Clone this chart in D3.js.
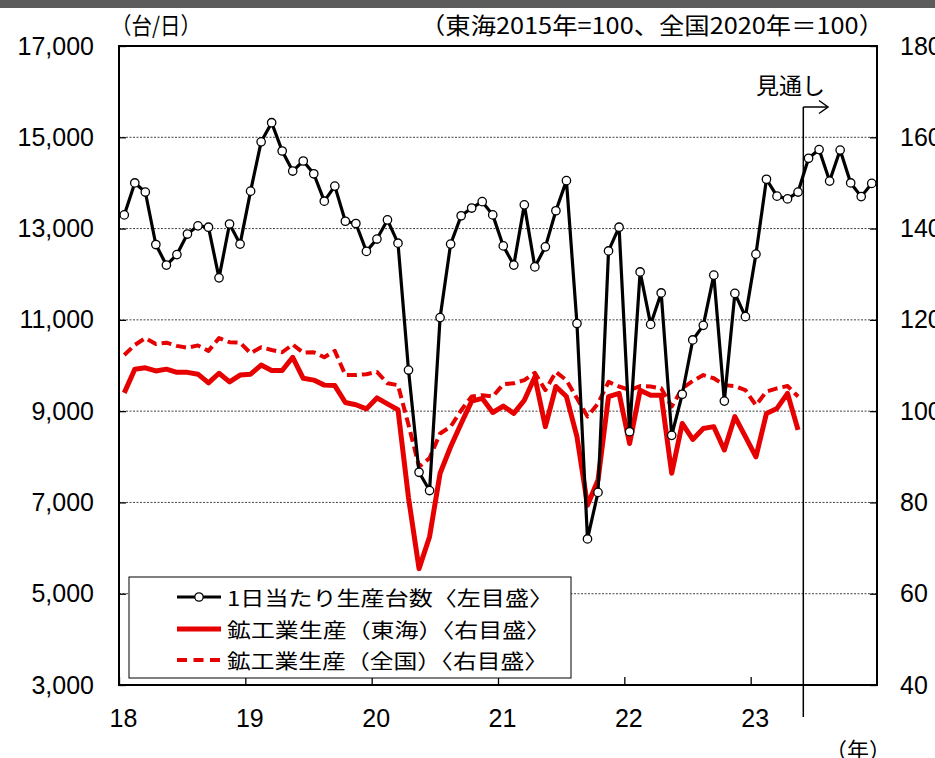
<!DOCTYPE html>
<html>
<head>
<meta charset="utf-8">
<script src="https://cdn.jsdelivr.net/npm/d3@7/dist/d3.min.js"></script>
<style>
  html, body { margin: 0; padding: 0; background: #fff; }
  svg { display: block; }
  .num { font-family: "Liberation Sans", Arial, sans-serif; }
  .jp { font-family: "Noto Sans CJK JP", "Noto Sans", sans-serif; }
</style>
</head>
<body>
<svg id="chart" width="935" height="758"></svg>
<script>
// Monthly series, Jan 2018 onward
const yearLabels = ["18", "19", "20", "21", "22", "23"];

// 1日当たり生産台数 (台/日), Jan 2018 – Dec 2023 (from Jun 2023: outlook)
const unitsPerDay = [
  13300, 14000, 13800, 12650, 12200, 12430, 12880, 13060, 13030, 11920, 13100, 12660,
  13820, 14900, 15320, 14700, 14260, 14480, 14200, 13600, 13930, 13160, 13110, 12500,
  12770, 13190, 12680, 9900, 7660, 7260, 11050, 12660, 13280, 13450, 13590, 13300,
  12620, 12200, 13520, 12160, 12600, 13390, 14050, 10920, 6200, 7220, 12510, 13030,
  8550, 12050, 10900, 11590, 8470, 9370, 10560, 10880, 11980, 9220, 11580, 11070,
  12440, 14080, 13710, 13650, 13800, 14540, 14730, 14040, 14720, 14000, 13700, 13990
];

// 鉱工業生産（東海）, 2015=100, Jan 2018 – May 2023
const tokaiIP = [
  104.0, 109.2, 109.5, 108.8, 109.2, 108.5, 108.5, 108.1, 106.2, 108.3, 106.4, 107.9,
  108.1, 110.1, 108.9, 108.9, 111.8, 107.2, 106.8, 105.7, 105.6, 101.9, 101.4, 100.5,
  102.9, 101.6, 100.3, 81.0, 65.5, 72.5, 86.4, 92.2, 97.3, 102.2, 102.8, 99.7,
  101.1, 99.5, 102.4, 107.5, 96.6, 105.4, 103.2, 94.4, 79.4, 84.9, 103.2, 103.9,
  92.9, 104.6, 103.5, 103.5, 86.4, 97.3, 93.8, 96.2, 96.6, 91.5, 98.8, 94.4,
  90.0, 99.5, 100.6, 103.9, 95.9
];

// 鉱工業生産（全国）, 2020=100, Jan 2018 – May 2023
const nationalIP = [
  112.3, 114.5, 116.0, 114.7, 115.0, 114.3, 113.9, 114.4, 113.2, 116.0, 115.1, 115.0,
  112.7, 114.0, 113.4, 112.9, 114.6, 112.8, 112.9, 111.8, 113.2, 107.9, 107.9, 108.1,
  108.6, 106.1, 105.7, 97.0, 87.8, 89.7, 95.1, 96.6, 100.2, 103.2, 103.5, 103.2,
  105.9, 106.1, 106.8, 108.4, 104.6, 108.6, 106.8, 102.8, 98.8, 101.7, 106.4, 105.4,
  104.6, 105.5, 105.4, 105.0, 101.0, 105.0, 106.6, 107.9, 107.2, 105.7, 105.5, 104.6,
  101.3, 104.3, 105.0, 105.5, 103.2
];

const leftTicks = [3000, 5000, 7000, 9000, 11000, 13000, 15000, 17000];
const rightTicks = [40, 60, 80, 100, 120, 140, 160, 180];
const outlookStart = 65; // month index where the outlook begins (Jun 2023)

const legendLabels = [
  "1日当たり生産台数〈左目盛〉",
  "鉱工業生産（東海）〈右目盛〉",
  "鉱工業生産（全国）〈右目盛〉"
];

const svg = d3.select("#chart");
const W = 935, H = 758;
const plot = { left: 119, right: 877, top: 46, bottom: 685 };
const RED = "#e60000";

const x = d3.scaleLinear().domain([0, 72]).range([plot.left, plot.right]);
const yL = d3.scaleLinear().domain([3000, 17000]).range([plot.bottom, plot.top]);
const yR = d3.scaleLinear().domain([40, 180]).range([plot.bottom, plot.top]);

// top band
svg.append("rect").attr("x", 0).attr("y", 0).attr("width", W).attr("height", 8).attr("fill", "#5c5c5c");

// dotted gridlines
svg.append("g").selectAll("line")
  .data(leftTicks.filter(d => d > 3000 && d < 17000))
  .join("line")
  .attr("x1", plot.left).attr("x2", plot.right)
  .attr("y1", d => yL(d)).attr("y2", d => yL(d))
  .attr("stroke", "#444").attr("stroke-width", 1).attr("stroke-dasharray", "2,1.5");

// axes
const axL = d3.axisLeft(yL).tickValues(leftTicks).tickFormat(d3.format(","))
  .tickSizeInner(-7).tickSizeOuter(0).tickPadding(25);
const gL = svg.append("g").attr("transform", `translate(${plot.left},0)`).call(axL);

const axR = d3.axisRight(yR).tickValues(rightTicks).tickFormat(d3.format("d"))
  .tickSizeInner(-7).tickSizeOuter(0).tickPadding(23);
const gR = svg.append("g").attr("transform", `translate(${plot.right},0)`).call(axR);

const axB = d3.axisBottom(x).tickValues(d3.range(0, 72, 12))
  .tickFormat((d, i) => yearLabels[i])
  .tickSizeInner(-8).tickSizeOuter(0).tickPadding(24);
const gB = svg.append("g").attr("transform", `translate(0,${plot.bottom})`).call(axB);

[gL, gR, gB].forEach(g => {
  g.select(".domain").remove();
  g.selectAll(".tick line").attr("stroke", "#000").attr("stroke-width", 1.3);
  g.selectAll(".tick text").attr("class", "num").attr("fill", "#000").style("font-size", "25px");
});
gB.selectAll(".tick text").attr("dx", 4);

// outlook marker
const xo = x(outlookStart);
svg.append("line").attr("x1", xo).attr("x2", xo).attr("y1", 107).attr("y2", 717)
  .attr("stroke", "#000").attr("stroke-width", 1.5);
svg.append("line").attr("x1", xo).attr("x2", 828).attr("y1", 107).attr("y2", 107)
  .attr("stroke", "#000").attr("stroke-width", 1.5);
svg.append("path").attr("d", "M819,100.5 L828,107 L819,113.5")
  .attr("fill", "none").attr("stroke", "#000").attr("stroke-width", 1.5);
svg.append("text").attr("class", "jp").attr("x", 756).attr("y", 84)
  .attr("dominant-baseline", "central").style("font-size", "23px").text("見通し");

// series
const lineL = d3.line().x((d, i) => x(i + 0.5)).y(d => yL(d));
const lineR = d3.line().x((d, i) => x(i + 0.5)).y(d => yR(d));

svg.append("path").datum(nationalIP).attr("d", lineR)
  .attr("fill", "none").attr("stroke", RED).attr("stroke-width", 4)
  .attr("stroke-dasharray", "10,5").attr("stroke-linejoin", "round");

svg.append("path").datum(tokaiIP).attr("d", lineR)
  .attr("fill", "none").attr("stroke", RED).attr("stroke-width", 5)
  .attr("stroke-linejoin", "round");

svg.append("path").datum(unitsPerDay).attr("d", lineL)
  .attr("fill", "none").attr("stroke", "#000").attr("stroke-width", 3.2)
  .attr("stroke-linejoin", "round");

svg.append("g").selectAll("circle").data(unitsPerDay).join("circle")
  .attr("cx", (d, i) => x(i + 0.5)).attr("cy", d => yL(d)).attr("r", 4.2)
  .attr("fill", "#fff").attr("stroke", "#000").attr("stroke-width", 1.3);

// plot frame
svg.append("rect").attr("x", plot.left).attr("y", plot.top)
  .attr("width", plot.right - plot.left).attr("height", plot.bottom - plot.top)
  .attr("fill", "none").attr("stroke", "#000").attr("stroke-width", 2);

// legend
const lg = svg.append("g");
lg.append("rect").attr("x", 129).attr("y", 577).attr("width", 442).attr("height", 101)
  .attr("fill", "#fff").attr("stroke", "#000").attr("stroke-width", 1);
const rowY = [597, 629, 660];
const textLen = [326, 323, 321];
lg.append("line").attr("x1", 177).attr("x2", 221).attr("y1", rowY[0]).attr("y2", rowY[0])
  .attr("stroke", "#000").attr("stroke-width", 3.2);
lg.append("circle").attr("cx", 199).attr("cy", rowY[0]).attr("r", 4.2)
  .attr("fill", "#fff").attr("stroke", "#000").attr("stroke-width", 1.3);
lg.append("line").attr("x1", 177).attr("x2", 221).attr("y1", rowY[1]).attr("y2", rowY[1])
  .attr("stroke", RED).attr("stroke-width", 5);
lg.append("line").attr("x1", 177).attr("x2", 220).attr("y1", rowY[2]).attr("y2", rowY[2])
  .attr("stroke", RED).attr("stroke-width", 4).attr("stroke-dasharray", "10,6.5");
legendLabels.forEach((t, i) => {
  lg.append("text").attr("class", "jp").attr("x", 227).attr("y", rowY[i])
    .attr("dominant-baseline", "central").attr("textLength", textLen[i])
    .attr("lengthAdjust", "spacingAndGlyphs")
    .style("font-size", "20px").text(t);
});

// unit captions
svg.append("text").attr("class", "jp").attr("x", 111).attr("y", 24)
  .attr("dominant-baseline", "central").attr("textLength", 90)
  .attr("lengthAdjust", "spacingAndGlyphs").style("font-size", "23px").text("（台/日）");
svg.append("text").attr("class", "jp").attr("x", 420).attr("y", 24)
  .attr("dominant-baseline", "central").attr("textLength", 464)
  .attr("lengthAdjust", "spacingAndGlyphs").style("font-size", "23px")
  .text("（東海2015年=100、全国2020年＝100）");
svg.append("text").attr("class", "jp").attr("x", 858).attr("y", 748)
  .attr("dominant-baseline", "central").attr("text-anchor", "middle")
  .style("font-size", "22px").text("（年）");
</script>
</body>
</html>
